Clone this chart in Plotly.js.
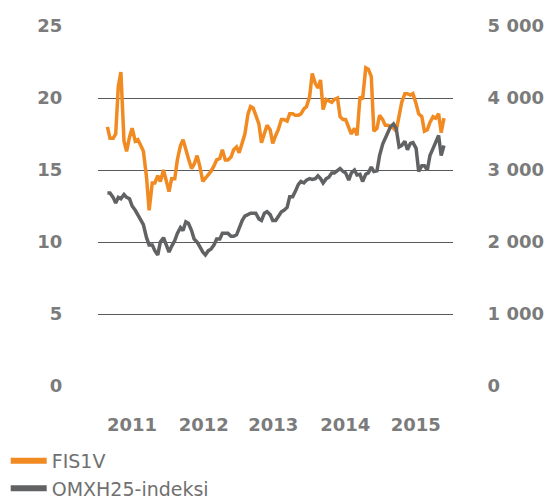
<!DOCTYPE html>
<html>
<head>
<meta charset="utf-8">
<script src="https://cdn.plot.ly/plotly-3.0.1.min.js"></script>
<style>
html,body{margin:0;padding:0;background:#fff;}
#chart{width:548px;height:500px;}
</style>
</head>
<body>
<div id="chart"></div>
<script>
// Sampling dates: 1st and 15th of each month, 2011-2015, plus last trading day
const years = [2011, 2012, 2013, 2014, 2015];
const sampleDays = ["01", "15"];
const lastDate = "2015-12-30";

// FIS1V share price (EUR), left axis
const fis1v = [
  18.0,17.2,17.2,17.5,20.8,21.8,17.0,16.3,17.3,17.9,
  17.0,17.1,16.7,16.3,14.5,12.2,14.1,14.1,14.6,14.2,
  15.0,14.4,13.5,14.4,14.4,15.7,16.7,17.1,16.3,15.8,
  15.1,15.4,16.0,15.3,14.2,14.4,14.7,14.9,15.3,15.7,
  15.8,16.4,15.7,15.7,15.9,16.4,16.6,16.2,16.9,17.5,
  18.9,19.4,19.3,18.8,18.2,16.9,17.5,18.1,17.8,
  16.85,17.4,17.8,18.5,18.5,18.4,18.9,18.9,18.8,18.8,
  18.9,19.25,19.4,20.1,21.7,21.0,20.7,21.25,19.2,19.9,
  19.8,19.7,19.9,20.0,18.7,18.5,18.5,18.0,17.5,17.9,
  17.4,20.1,19.9,22.1,22.0,21.5,17.7,17.9,18.8,18.5,
  18.1,18.1,18.0,17.9,17.7,18.7,19.7,20.3,20.3,20.2,
  20.3,19.6,18.9,18.7,17.7,17.8,18.3,18.7,18.6,18.9,
  17.6,18.6
];

// OMXH25 index, right axis
const omxh25 = [
  2680,2680,2620,2540,2620,2600,2660,2620,2600,2500,
  2440,2380,2320,2240,2060,1960,1960,1880,1820,2000,
  2060,1960,1860,1940,2020,2120,2200,2160,2280,2260,
  2160,2040,2000,1940,1860,1820,1880,1900,1960,2040,
  2040,2120,2120,2120,2080,2080,2100,2200,2300,2360,
  2380,2400,2400,2400,2320,2300,2400,2420,2380,
  2300,2300,2360,2420,2440,2480,2630,2630,2700,2800,
  2840,2820,2860,2880,2870,2880,2920,2880,2820,2880,
  2900,2960,2960,3000,3020,2980,2960,2860,2960,3000,
  2930,2940,2840,2940,2960,3040,2980,2990,3200,3360,
  3440,3540,3600,3640,3580,3320,3340,3400,3280,3370,
  3380,3300,2980,3060,3060,3000,3200,3300,3400,3480,
  3200,3340
];

// Axis ticks
const xTickDates = ["2011-05-14", "2012-06-06", "2013-06-18", "2014-07-13", "2015-07-30"];
const xTickLabels = ["2011", "2012", "2013", "2014", "2015"];
const yLeftTicks = [0, 5, 10, 15, 20, 25];
const yLeftLabels = ["0", "5", "10", "15", "20", "25"];
const yRightTicks = [0, 1000, 2000, 3000, 4000, 5000];
const yRightLabels = ["0", "1 000", "2 000", "3 000", "4 000", "5 000"];

const seriesNames = ["FIS1V", "OMXH25-indeksi"];
const seriesColors = ["#f28a22", "#616264"];

// Build date list
const dates = [];
years.forEach(y => {
  for (let m = 1; m <= 12; m++) {
    sampleDays.forEach(d => dates.push(y + "-" + String(m).padStart(2, "0") + "-" + d));
  }
});
dates.push(lastDate);

const tickFont = {family: "DejaVu Sans", size: 18, color: "#7b7b7b", weight: "bold"};

const traces = [
  {x: dates, y: fis1v, type: "scatter", mode: "lines", yaxis: "y",
   line: {color: seriesColors[0], width: 3.5}, showlegend: false, hoverinfo: "skip"},
  {x: dates, y: omxh25, type: "scatter", mode: "lines", yaxis: "y2",
   line: {color: seriesColors[1], width: 3.5}, showlegend: false, hoverinfo: "skip"},
  {x: [null], y: [null], type: "scatter", mode: "lines", name: seriesNames[0],
   line: {color: seriesColors[0], width: 6}},
  {x: [null], y: [null], type: "scatter", mode: "lines", name: seriesNames[1],
   line: {color: seriesColors[1], width: 6}}
];

const layout = {
  width: 548, height: 500,
  margin: {l: 98, r: 95, t: 26, b: 114, pad: 0, autoexpand: false},
  paper_bgcolor: "#ffffff", plot_bgcolor: "#ffffff",
  showlegend: true,
  legend: {x: -0.26, y: -0.155, xanchor: "left", yanchor: "top",
           font: {family: "DejaVu Sans", size: 19, color: "#707070"},
           tracegroupgap: 0, bgcolor: "rgba(0,0,0,0)", itemwidth: 36},
  xaxis: {type: "date", range: ["2010-11-11", "2016-02-17"],
          showgrid: false, zeroline: false, showline: false,
          tickvals: xTickDates, ticktext: xTickLabels,
          ticks: "outside", ticklen: 22, tickcolor: "rgba(0,0,0,0)",
          tickfont: tickFont, fixedrange: true},
  yaxis: {range: [0, 25], tickvals: yLeftTicks, ticktext: yLeftLabels,
          showgrid: true, gridcolor: "#5a5a5a", gridwidth: 1,
          zeroline: false, showline: false,
          ticks: "outside", ticklen: 31, tickcolor: "rgba(0,0,0,0)",
          tickfont: tickFont, fixedrange: true},
  yaxis2: {range: [0, 5000], overlaying: "y", side: "right",
           tickvals: yRightTicks, ticktext: yRightLabels,
           showgrid: false, zeroline: false, showline: false,
           ticks: "outside", ticklen: 30, tickcolor: "rgba(0,0,0,0)",
           tickfont: tickFont, fixedrange: true}
};

Plotly.newPlot("chart", traces, layout, {displayModeBar: false, staticPlot: true});
</script>
</body>
</html>
